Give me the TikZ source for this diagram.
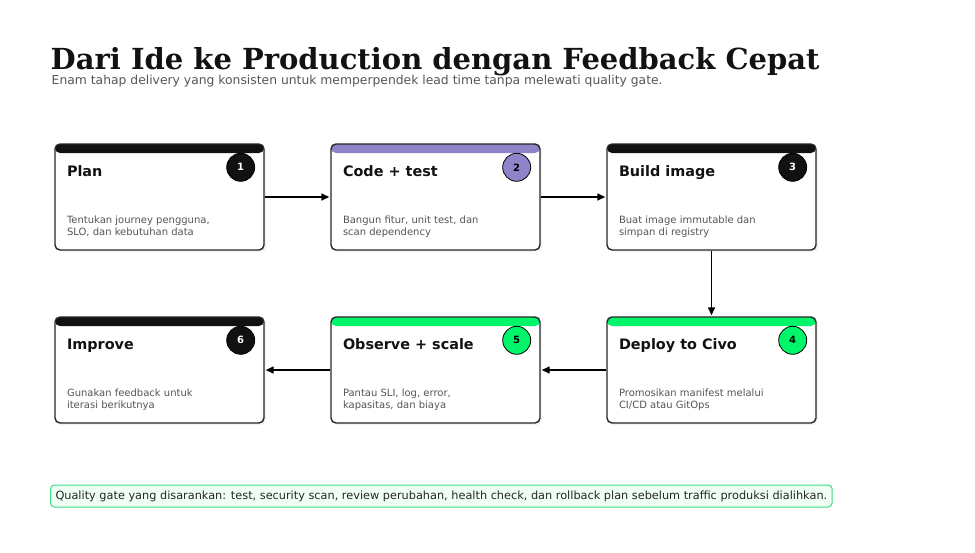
\documentclass[tikz,border=0pt]{standalone}
\usepackage{fontspec}
\setmainfont{DejaVu Sans}
\newfontfamily\titlefont{DejaVu Serif}
\usetikzlibrary{arrows.meta}
\usetikzlibrary{positioning}
\usetikzlibrary{shadows}
\definecolor{barblack}{HTML}{111111}
\definecolor{barpurple}{HTML}{8E84C9}
\definecolor{bargreen}{HTML}{00F56A}
\definecolor{txtgrey}{HTML}{555555}
\definecolor{gateedge}{HTML}{3DDC84}
\definecolor{gatefill}{HTML}{EFFFF4}

\begin{document}
\begin{tikzpicture}[x=1pt,y=-1pt,->,>={Triangle[length=8pt,width=7pt]},shorten >=1pt,line width=1.4pt,
  node distance=276pt,
  main node/.style={rectangle,rounded corners=5pt,draw=black!85,fill=white,
    minimum width=209pt,minimum height=106pt,inner sep=0pt,
    drop shadow={shadow xshift=2pt,shadow yshift=-2pt,fill=black!10},
    path picture={\fill[#1] (path picture bounding box.north west) rectangle
      ([yshift=-9pt]path picture bounding box.north east);}},
  num node/.style={circle,draw=black,line width=0.8pt,minimum size=28pt,inner sep=0pt,
    font=\bfseries\fontsize{10}{12}\selectfont},
  head node/.style={anchor=base west,inner sep=0pt,text=black!93,
    font=\bfseries\fontsize{14.4}{17}\selectfont},
  desc node/.style={anchor=north west,inner sep=0pt,align=left,text=txtgrey,
    font=\fontsize{10}{11.5}\selectfont}]

  \useasboundingbox (0,0) rectangle (975,552);

  % title
  \node[anchor=base west,inner sep=0pt,text=black!93,
    font=\titlefont\bfseries\fontsize{29}{34}\selectfont] (title) at (50,69)
    {Dari Ide ke Production dengan Feedback Cepat};
  \node[anchor=base west,inner sep=0pt,text=txtgrey,font=\fontsize{12.35}{15}\selectfont]
    (sub) at (51,84)
    {Enam tahap delivery yang konsisten untuk memperpendek lead time tanpa melewati quality gate.};

  % cards
  \node[main node=barblack] (1) at (159.5,197) {};
  \node[main node=barpurple] (2) [right of=1] {};
  \node[main node=barblack] (3) [right of=2] {};
  \node[main node=bargreen] (4) [below of=3,node distance=173pt] {};
  \node[main node=bargreen] (5) [left of=4] {};
  \node[main node=barblack] (6) [left of=5] {};

  \node[num node,fill=barblack,text=white] (1n) at ([xshift=-24pt,yshift=-24pt]1.north east) {1};
  \node[num node,fill=barpurple] (2n) at ([xshift=-24pt,yshift=-24pt]2.north east) {2};
  \node[num node,fill=barblack,text=white] (3n) at ([xshift=-24pt,yshift=-24pt]3.north east) {3};
  \node[num node,fill=bargreen] (4n) at ([xshift=-24pt,yshift=-24pt]4.north east) {4};
  \node[num node,fill=bargreen] (5n) at ([xshift=-24pt,yshift=-24pt]5.north east) {5};
  \node[num node,fill=barblack,text=white] (6n) at ([xshift=-24pt,yshift=-24pt]6.north east) {6};

  \node[head node] (1h) at ([xshift=12pt,yshift=-33.5pt]1.north west) {Plan};
  \node[head node] (2h) at ([xshift=12pt,yshift=-33.5pt]2.north west) {Code + test};
  \node[head node] (3h) at ([xshift=12pt,yshift=-33.5pt]3.north west) {Build image};
  \node[head node] (4h) at ([xshift=12pt,yshift=-33.5pt]4.north west) {Deploy to Civo};
  \node[head node] (5h) at ([xshift=12pt,yshift=-33.5pt]5.north west) {Observe + scale};
  \node[head node] (6h) at ([xshift=12pt,yshift=-33.5pt]6.north west) {Improve};

  \node[desc node] (1d) at ([xshift=12pt,yshift=-72pt]1.north west) {Tentukan journey pengguna,\\SLO, dan kebutuhan data};
  \node[desc node] (2d) at ([xshift=12pt,yshift=-72pt]2.north west) {Bangun fitur, unit test, dan\\scan dependency};
  \node[desc node] (3d) at ([xshift=12pt,yshift=-72pt]3.north west) {Buat image immutable dan\\simpan di registry};
  \node[desc node] (4d) at ([xshift=12pt,yshift=-72pt]4.north west) {Promosikan manifest melalui\\CI/CD atau GitOps};
  \node[desc node] (5d) at ([xshift=12pt,yshift=-72pt]5.north west) {Pantau SLI, log, error,\\kapasitas, dan biaya};
  \node[desc node] (6d) at ([xshift=12pt,yshift=-72pt]6.north west) {Gunakan feedback untuk\\iterasi berikutnya};

  \path
    (1) edge (2)
    (2) edge (3)
    (3) edge (4)
    (4) edge (5)
    (5) edge (6);

  % quality gate note
  \node[anchor=west,draw=gateedge,fill=gatefill,rounded corners=4pt,line width=1pt,
    minimum height=22pt,inner xsep=5pt,text=black!85,font=\fontsize{11.3}{13}\selectfont]
    (gate) at (50,496)
    {Quality gate yang disarankan: test, security scan, review perubahan, health check, dan rollback plan sebelum traffic produksi dialihkan.};
\end{tikzpicture}
\end{document}
